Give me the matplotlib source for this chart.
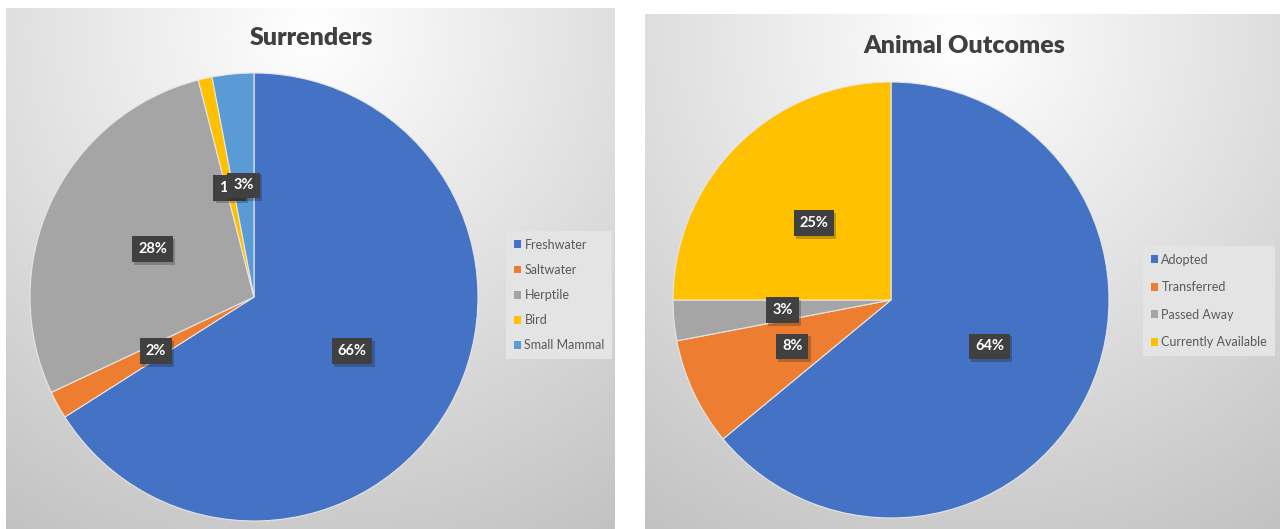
import numpy as np
import matplotlib
matplotlib.use("Agg")
import matplotlib.pyplot as plt
import matplotlib.patheffects as pe
from matplotlib.patches import Patch

plt.rcParams['font.family'] = ['Lato', 'DejaVu Sans']

# Dades dels dos gràfics
cat_surr = ['Freshwater', 'Saltwater', 'Herptile', 'Bird', 'Small Mammal']
val_surr = [66, 2, 28, 1, 3]
col_surr = ['#4472C4', '#ED7D31', '#A5A5A5', '#FFC000', '#5B9BD5']

cat_out = ['Adopted', 'Transferred', 'Passed Away', 'Currently Available']
val_out = [64, 8, 3, 25]
col_out = ['#4472C4', '#ED7D31', '#A5A5A5', '#FFC000']

W, H = 1280, 529
fig = plt.figure(figsize=(W / 100, H / 100), dpi=100)

# Fons: dos panells amb degradat radial (estil Excel)
img = np.ones((H, W, 3))
yy, xx = np.mgrid[0:H, 0:W]
panells = [(6, 615, 8), (645, 1280, 14)]
for x0, x1, y0 in panells:
    cx = (x0 + x1) / 2
    cy = y0 + 25
    d = np.sqrt((xx - cx) ** 2 + (yy - cy) ** 2)
    g = np.clip(1 - d * 0.105 / 255, 0.74, 1)
    m = (xx >= x0) & (xx < x1) & (yy >= y0)
    for c in range(3):
        img[..., c][m] = g[m]
bg = fig.add_axes([0, 0, 1, 1])
bg.imshow(img, aspect='auto', extent=[0, W, H, 0])
bg.set_xlim(0, W)
bg.set_ylim(H, 0)
bg.axis('off')


def pastis(cx, cy, r, vals, cols, cats, titol, tx, ty, leg_pos, lsp):
    ax = fig.add_axes([(cx - r) / W, (H - cy - r) / H, 2 * r / W, 2 * r / H])
    wedges, _ = ax.pie(vals, colors=cols, startangle=90, counterclock=False,
                       radius=1, wedgeprops=dict(edgecolor='#e6e6e6', linewidth=0.8))
    ax.set_xlim(-1, 1)
    ax.set_ylim(-1, 1)
    ax.set_aspect('equal')
    ax.axis('off')
    for i, (w, v) in enumerate(zip(wedges, vals)):
        ang = np.deg2rad((w.theta1 + w.theta2) / 2)
        x, y = 0.5 * np.cos(ang), 0.5 * np.sin(ang)
        t = ax.text(x, y, f'{v}%', ha='center', va='center', color='white',
                    fontsize=10.5, fontweight='bold', zorder=10 + i,
                    bbox=dict(boxstyle='square,pad=0.4', fc='#404040', ec='none'))
        # ombra suau de la caixa
        t.get_bbox_patch().set_path_effects(
            [pe.SimplePatchShadow(offset=(1.5, -2), alpha=0.25), pe.Normal()])
    fig.text(tx / W, 1 - ty / H, titol, ha='center', va='center',
             fontsize=18, fontweight='heavy', color='#404040')
    handles = [Patch(facecolor=c, edgecolor='none', label=k) for c, k in zip(cols, cats)]
    leg = fig.legend(handles=handles, loc='center left',
                     bbox_to_anchor=(leg_pos[0] / W, 1 - leg_pos[1] / H),
                     frameon=True, fontsize=9, handlelength=0.6, handleheight=0.6,
                     handletextpad=0.25, labelspacing=lsp, borderpad=0.6,
                     fancybox=False, labelcolor='#595959')
    leg.get_frame().set_facecolor('#e4e4e4')
    leg.get_frame().set_edgecolor('none')
    leg.get_frame().set_alpha(1)


pastis(254, 297, 224, val_surr, col_surr, cat_surr, 'Surrenders', 311, 38, (500, 295), 1.05)
pastis(891, 300, 218, val_out, col_out, cat_out, 'Animal Outcomes', 964, 46, (1137, 301), 1.25)

fig.savefig('out.png', dpi=100)
